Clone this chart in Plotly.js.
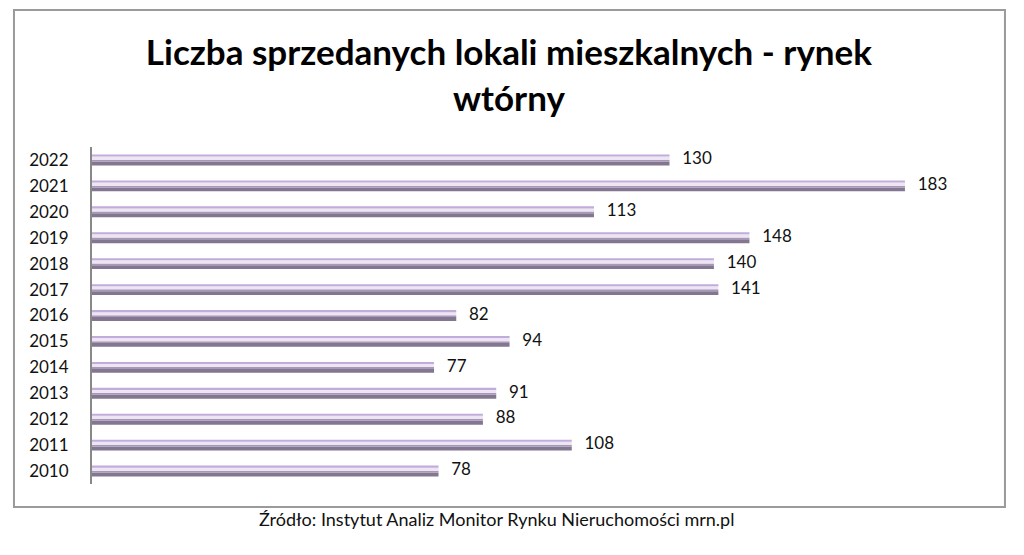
<!DOCTYPE html>
<html><head><meta charset="utf-8">
<script src="https://cdn.plot.ly/plotly-3.0.1.min.js"></script>
<style>html,body{margin:0;padding:0;background:#fff}#chart{width:1024px;height:555px}</style>
</head><body><div id="chart"></div>
<script>
const years = ['2010','2011','2012','2013','2014','2015','2016','2017','2018','2019','2020','2021','2022'];
const sales = [78,108,88,91,77,94,82,141,140,148,113,183,130];
const chartTitle = 'Liczba sprzedanych lokali mieszkalnych - rynek<br>wtórny';
const sourceText = 'Źródło: Instytut Analiz Monitor Rynku Nieruchomości mrn.pl';

const FONT = 'Lato, "Open Sans", sans-serif';
const layers = [
  {offset:-0.21, width:0.15, color:'#827690'},
  {offset:-0.06, width:0.07, color:'#a898b8'},
  {offset: 0.01, width:0.12, color:'#ede5f3'},
  {offset: 0.13, width:0.08, color:'#c1acdb'}
];
const traces = layers.map(l => ({
  type:'bar', orientation:'h', x:sales, y:years,
  offset:l.offset, width:l.width,
  marker:{color:l.color, line:{width:0}},
  hoverinfo:'skip', showlegend:false
}));
traces.push({
  type:'scatter', mode:'text', x:sales, y:years,
  text:sales.map(String), texttemplate:'\u2003%{text}',
  textposition:'middle right',
  textfont:{family:FONT, size:17, color:'#111'},
  hoverinfo:'skip', showlegend:false, cliponaxis:false
});

const annotations = [{
  x:0.449, y:-0.105, xref:'paper', yref:'paper', text:sourceText,
  showarrow:false, xanchor:'center', yanchor:'middle',
  font:{family:FONT, size:18, color:'#111'}
}];

const layout = {
  width:1024, height:555,
  margin:{l:92, r:32, t:147, b:71},
  paper_bgcolor:'#fff', plot_bgcolor:'#fff',
  barmode:'overlay',
  title:{text:chartTitle, x:0.497, xanchor:'center', y:0.882, yanchor:'top',
         font:{family:FONT, size:35, color:'#000', weight:'bold'}},
  xaxis:{range:[0,202.6], visible:false, fixedrange:true},
  yaxis:{type:'category', categoryorder:'array', categoryarray:years, range:[-0.5,12.5],
         showline:true, linecolor:'#888', linewidth:2, showgrid:false, zeroline:false,
         ticks:'', ticklabelstandoff:18,
         tickfont:{family:FONT, size:17, color:'#111'}},
  annotations:annotations,
  shapes:[{type:'rect', xref:'paper', yref:'paper',
           x0:-0.0867, x1:1.0144, y0:-0.068, y1:1.4065,
           line:{color:'#9a9a9a', width:2}, fillcolor:'rgba(0,0,0,0)', layer:'below'}]
};
Plotly.newPlot('chart', traces, layout, {displayModeBar:false, staticPlot:true});
</script></body></html>
